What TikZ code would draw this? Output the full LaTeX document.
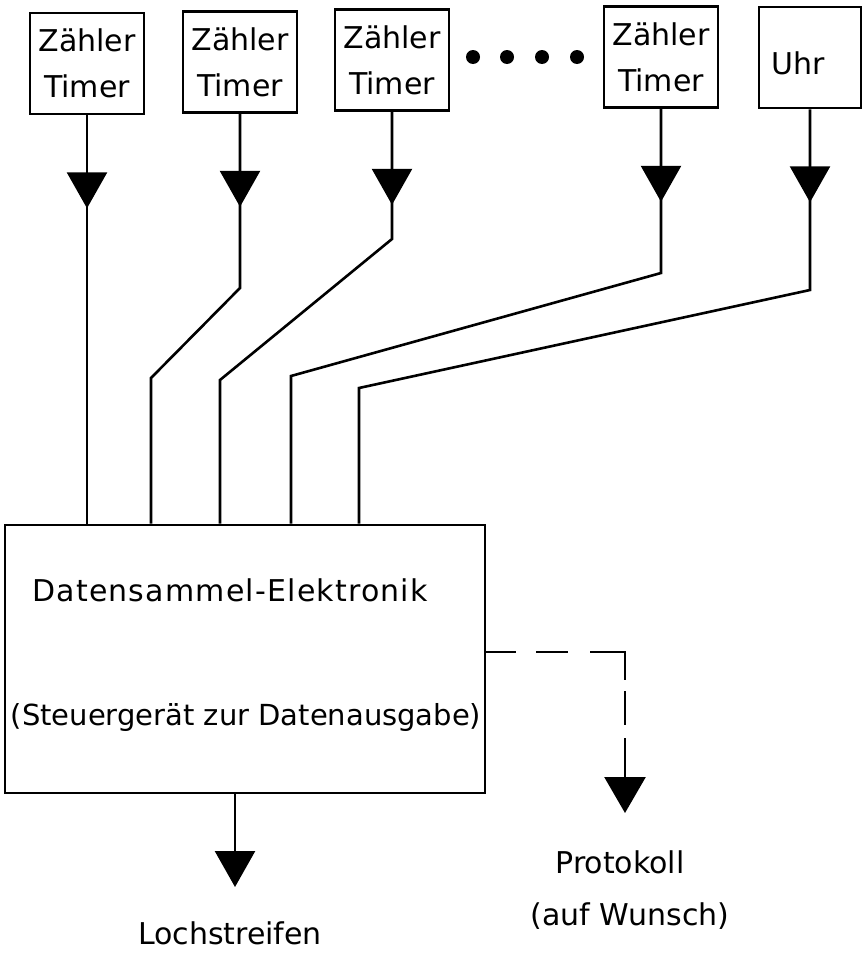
\documentclass[tikz,border=0pt]{standalone}
\usepackage{fontspec}
\setmainfont{DejaVu Sans}
\usetikzlibrary{arrows.meta}
\usetikzlibrary{decorations.markings}

\begin{document}
\begin{tikzpicture}[x=1pt, y=-1pt, line width=2.6pt,
    bigtip/.tip = {Triangle[width=40pt, length=36pt]},
    zbox/.style = {draw, minimum width=114pt, minimum height=101pt,
        inner sep=0pt, align=center, font=\fontsize{30}{46}\selectfont},
    txt/.style = {inner sep=0pt, font=\fontsize{30}{36}\selectfont},
    feed/.style = {postaction={decorate, decoration={markings,
        mark=at position 93pt with {\arrow{bigtip}}}}},
    optional/.style = {dash pattern=on 30pt off 20pt on 32pt off 22pt on 63pt off 11pt on 34pt off 13pt on 90pt}]

    \useasboundingbox (0,0) rectangle (862,953);

    % Zaehler und Uhr
    \node[zbox] (z1) at (87,63.5) {Zähler\\Timer};
    \node[zbox] (z2) at (240,62) {Zähler\\Timer};
    \node[zbox] (z3) at (392,60) {Zähler\\Timer};
    \node[zbox] (z4) at (661,57) {Zähler\\Timer};
    \node[zbox, minimum width=102pt, text height=34pt] (uhr) at (810,57.5) {Uhr\hspace*{24pt}};

    \foreach \x in {473,507,542,577}
        \fill (\x,57) circle (7pt);

    % Datensammel-Elektronik
    \node[draw,
    minimum width=480pt,
    minimum height=268pt,
    inner sep=0pt] (main) at (245,659) {};

    \node[txt, font=\fontsize{30}{36}\selectfont\addfontfeature{LetterSpace=4}] (title) at (230,590) {Datensammel-Elektronik};
    \node[txt, font=\fontsize{29}{36}\selectfont] (subtitle) at (246,717) {(Steuergerät zur Datenausgabe)};

    \draw[feed] (z1.south) -- (z1.south |- main.north);
    \draw[feed] (z2.south) -- (240,288) -- (151,378) -- (151,378 |- main.north);
    \draw[feed] (z3.south) -- (392,239) -- (220,380) -- (220,380 |- main.north);
    \draw[feed] (z4.south) -- (661,273) -- (291,376) -- (291,376 |- main.north);
    \draw[feed] (uhr.south) -- (810,290) -- (359,388) -- (359,388 |- main.north);

    % Ausgaben
    \coordinate (ltip) at (235,887);
    \coordinate (ptip) at (625,813);

    \draw[-{Triangle[width=40pt, length=36pt]}] (main.south -| ltip) -- (ltip);
    \draw[optional, -{Triangle[width=41pt, length=36pt]}] (main.east |- 0,652) -| (ptip);

    \node[txt] (strip) at (230,933) {Lochstreifen};
    \node[txt] (proto) at (620,862) {Protokoll};
    \node[txt] (wish) at (630,916) {(auf Wunsch)};
\end{tikzpicture}
\end{document}
